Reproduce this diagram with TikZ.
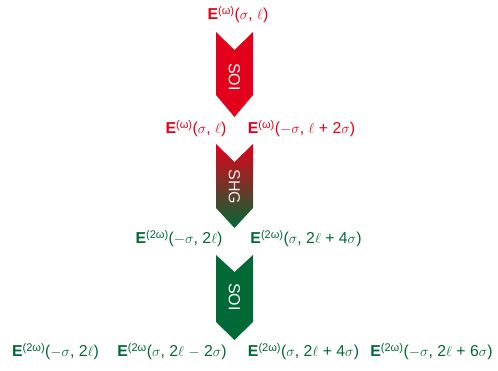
\documentclass[tikz,border=0pt]{standalone}
\usepackage{fontspec}
\setmainfont{Liberation Sans}
\definecolor{myred}{RGB}{226,0,26}
\definecolor{mygreen}{RGB}{0,105,53}
\newcommand{\EE}[1]{\textbf{E}\textsuperscript{(#1)}}
\begin{document}
\begin{tikzpicture}[x=1pt,y=-1pt,
  lab/.style={inner sep=0pt, font=\fontsize{15.8}{18}\selectfont},
  redlab/.style={lab, text=myred},
  greenlab/.style={lab, text=mygreen},
  chevlab/.style={inner sep=0pt, rotate=-90, text=white, font=\fontsize{16}{18}\selectfont}]
\useasboundingbox (0,0) rectangle (498,371);
% chevrons
\fill[myred] (216,32) -- (234.5,50) -- (253,32) -- (253,95) -- (234.5,117) -- (216,95) -- cycle;
\shade[top color=myred, bottom color=mygreen] (216,144) -- (234.5,162) -- (253,144) -- (253,208) -- (234.5,228) -- (216,208) -- cycle;
\fill[mygreen] (216,255) -- (234.5,272) -- (253,255) -- (253,322) -- (234.5,340) -- (216,322) -- cycle;
\node[chevlab] (soi1) at (234.5,77) {SOI};
\node[chevlab, text=white!92!black] (shg) at (234.5,187) {SHG};
\node[chevlab] (soi2) at (234.5,297) {SOI};
% labels
\node[redlab] (a0) at (238,15) {\EE{ω}($\sigma$, $\ell$)};
\node[redlab] (b1) at (196,129) {\EE{ω}($\sigma$, $\ell$)};
\node[redlab] (b2) at (301.5,129) {\EE{ω}($-\sigma$, $\ell$ + 2$\sigma$)};
\node[greenlab] (c1) at (179,239) {\EE{2ω}($-\sigma$, 2$\ell$)};
\node[greenlab] (c2) at (306,239) {\EE{2ω}($\sigma$, 2$\ell$ + 4$\sigma$)};
\node[greenlab] (d1) at (55.5,352) {\EE{2ω}($-\sigma$, 2$\ell$)};
\node[greenlab] (d2) at (172,352) {\textbf{E}\textsuperscript{(2ω}($\sigma$, 2$\ell$ $-$ 2$\sigma$)};
\node[greenlab] (d3) at (303.5,352) {\EE{2ω}($\sigma$, 2$\ell$ + 4$\sigma$)};
\node[greenlab] (d4) at (431.5,352) {\EE{2ω}($-\sigma$, 2$\ell$ + 6$\sigma$)};
\end{tikzpicture}
\end{document}
